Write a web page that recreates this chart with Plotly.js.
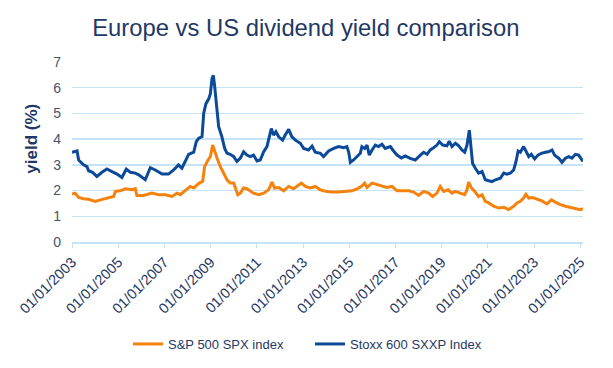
<!DOCTYPE html>
<html>
<head>
<meta charset="utf-8">
<script src="https://cdn.plot.ly/plotly-3.0.1.min.js"></script>
<style>html,body{margin:0;padding:0;background:#fff;}#chart{width:613px;height:368px;}</style>
</head>
<body>
<div id="chart"></div>
<script>
// Decimal years and yields in %
const spxYears = [2003.00,2003.14,2003.29,2003.50,2003.72,2004.01,2004.23,2004.44,2004.66,2004.80,2004.88,2005.09,2005.31,2005.60,2005.74,2005.81,2006.10,2006.46,2006.75,2007.04,2007.33,2007.55,2007.69,2007.90,2008.12,2008.27,2008.51,2008.66,2008.74,2008.89,2008.99,2009.09,2009.18,2009.28,2009.42,2009.56,2009.71,2009.85,2010.00,2010.10,2010.18,2010.29,2010.43,2010.57,2010.72,2010.86,2011.08,2011.30,2011.51,2011.66,2011.77,2011.95,2012.16,2012.38,2012.59,2012.74,2012.93,2013.10,2013.32,2013.53,2013.75,2013.97,2014.25,2014.54,2014.83,2015.12,2015.34,2015.52,2015.67,2015.77,2015.99,2016.20,2016.42,2016.63,2016.85,2017.07,2017.28,2017.57,2017.79,2018.00,2018.22,2018.44,2018.61,2018.80,2018.94,2019.09,2019.28,2019.45,2019.59,2019.81,2020.00,2020.10,2020.17,2020.29,2020.43,2020.60,2020.75,2020.89,2021.04,2021.25,2021.47,2021.70,2021.90,2022.12,2022.26,2022.41,2022.55,2022.65,2022.77,2022.94,2023.13,2023.34,2023.56,2023.75,2023.92,2024.14,2024.36,2024.57,2024.79,2025.00,2025.12];
const spxValues = [1.86,1.90,1.73,1.68,1.66,1.58,1.64,1.68,1.73,1.77,1.97,1.99,2.07,2.03,2.07,1.81,1.81,1.90,1.84,1.84,1.77,1.90,1.84,1.99,2.16,2.10,2.29,2.36,2.93,3.19,3.32,3.77,3.51,3.26,2.93,2.68,2.42,2.29,2.29,2.03,1.84,1.90,2.10,2.07,1.97,1.90,1.84,1.90,2.03,2.33,2.10,2.12,1.99,2.16,2.07,2.16,2.29,2.16,2.10,2.16,2.03,1.97,1.94,1.94,1.97,1.99,2.07,2.16,2.29,2.12,2.29,2.23,2.16,2.12,2.16,1.99,1.99,1.99,1.94,1.81,1.97,1.90,1.77,1.90,2.16,1.97,2.03,1.90,1.97,1.90,1.84,2.03,2.33,2.10,1.97,1.77,1.84,1.58,1.52,1.39,1.32,1.35,1.26,1.39,1.52,1.58,1.71,1.86,1.71,1.73,1.68,1.60,1.48,1.64,1.55,1.45,1.39,1.35,1.30,1.26,1.30];

const sxxpYears = [2003.00,2003.22,2003.29,2003.50,2003.65,2003.72,2003.89,2004.08,2004.30,2004.51,2004.73,2004.95,2005.16,2005.35,2005.53,2005.74,2005.89,2006.17,2006.39,2006.61,2006.90,2007.18,2007.40,2007.61,2007.76,2007.90,2008.05,2008.27,2008.38,2008.48,2008.63,2008.70,2008.80,2008.92,2008.99,2009.06,2009.12,2009.17,2009.23,2009.35,2009.49,2009.61,2009.71,2009.85,2010.00,2010.14,2010.29,2010.43,2010.57,2010.72,2010.86,2011.01,2011.15,2011.30,2011.44,2011.54,2011.63,2011.73,2011.83,2011.95,2012.12,2012.23,2012.38,2012.52,2012.67,2012.88,2013.03,2013.24,2013.39,2013.53,2013.75,2013.89,2014.04,2014.11,2014.33,2014.54,2014.76,2014.90,2014.98,2015.05,2015.19,2015.34,2015.48,2015.55,2015.67,2015.77,2015.87,2015.99,2016.13,2016.27,2016.42,2016.56,2016.78,2016.92,2017.07,2017.26,2017.43,2017.64,2017.86,2018.08,2018.22,2018.37,2018.51,2018.66,2018.80,2018.90,2019.05,2019.23,2019.33,2019.45,2019.60,2019.74,2019.88,2020.00,2020.10,2020.20,2020.27,2020.34,2020.46,2020.60,2020.75,2020.89,2021.04,2021.18,2021.33,2021.54,2021.69,2021.83,2021.97,2022.12,2022.22,2022.31,2022.41,2022.55,2022.65,2022.77,2022.88,2023.03,2023.17,2023.32,2023.49,2023.63,2023.78,2023.89,2024.07,2024.21,2024.36,2024.50,2024.64,2024.79,2024.93,2025.05,2025.12];
const sxxpValues = [3.49,3.54,3.19,3.00,2.93,2.77,2.71,2.55,2.71,2.84,2.74,2.64,2.51,2.84,2.71,2.68,2.61,2.42,2.89,2.80,2.64,2.64,2.80,3.00,2.87,3.13,3.41,3.49,3.90,4.03,4.10,5.00,5.38,5.57,5.77,6.35,6.48,6.09,5.57,4.48,4.09,3.64,3.45,3.41,3.32,3.13,3.26,3.51,3.38,3.32,3.38,3.15,3.19,3.51,3.71,4.16,4.41,4.16,4.29,4.09,3.96,4.16,4.38,4.09,3.96,3.84,3.64,3.58,3.73,3.49,3.45,3.32,3.49,3.54,3.64,3.71,3.67,3.71,3.49,3.10,3.19,3.32,3.45,3.71,3.64,3.77,3.38,3.58,3.77,3.71,3.80,3.64,3.71,3.54,3.38,3.27,3.35,3.25,3.19,3.38,3.49,3.41,3.58,3.67,3.77,3.90,3.77,3.74,3.92,3.71,3.84,3.74,3.58,3.49,3.77,4.35,3.77,3.06,2.87,2.68,2.74,2.42,2.38,2.35,2.42,2.48,2.68,2.64,2.68,2.80,3.13,3.54,3.49,3.71,3.54,3.32,3.41,3.23,3.38,3.45,3.49,3.51,3.58,3.38,3.26,3.10,3.26,3.32,3.26,3.41,3.38,3.19,3.13];

const seriesNames = ["S&P 500 SPX index", "Stoxx 600 SXXP Index"];
const chartTitle = "Europe vs US dividend yield comparison";
const yTitle = "yield (%)";

function decToDate(d) {
  const y = Math.floor(d);
  const s = Date.UTC(y, 0, 1), e = Date.UTC(y + 1, 0, 1);
  return new Date(s + (d - y) * (e - s)).toISOString().slice(0, 10);
}

const navy = "#1f3864";
const traces = [
  {x: spxYears.map(decToDate), y: spxValues, name: seriesNames[0], type: "scatter", mode: "lines",
   line: {color: "#f5820d", width: 3}},
  {x: sxxpYears.map(decToDate), y: sxxpValues, name: seriesNames[1], type: "scatter", mode: "lines",
   line: {color: "#0b4a98", width: 3}}
];

const layout = {
  width: 613, height: 368,
  margin: {l: 72, r: 30, t: 62, b: 126},
  paper_bgcolor: "#fff", plot_bgcolor: "#fff",
  font: {family: "Liberation Sans, Arial, sans-serif", color: navy},
  title: {text: chartTitle, x: 0.499, xanchor: "center", y: 1 - 28/368, yanchor: "middle",
          font: {size: 23.8, color: navy}},
  xaxis: {
    type: "date", range: [decToDate(2003.0), decToDate(2025.12)],
    tick0: "2003-01-01", dtick: "M24", tickformat: "%d/%m/%Y", tickangle: -45,
    showgrid: false, zeroline: false,
    showline: true, linecolor: "#c5e3f7", linewidth: 2,
    ticks: "outside", ticklen: 4, tickcolor: "#c5e3f7", tickwidth: 1,
    tickfont: {size: 14.5, color: navy}
  },
  yaxis: {
    range: [0, 7], dtick: 1, showgrid: true, gridcolor: "#c5e3f7", gridwidth: 1.5,
    zeroline: false, showline: false, ticks: "", ticklabelstandoff: 10,
    tickfont: {size: 14, color: "#44546a"}
  },
  showlegend: true,
  legend: {orientation: "h", xref: "container", yref: "container", x: 128/613, xanchor: "left",
           y: 1 - 344/368, yanchor: "middle", font: {size: 13, color: navy},
           entrywidth: 137, entrywidthmode: "pixels"},
  annotations: [{text: "<b>" + yTitle + "</b>", xref: "paper", yref: "paper",
                 x: (31.5 - 72) / 511, y: (242.3 - 139.5) / 180, textangle: -90, showarrow: false,
                 xanchor: "center", yanchor: "middle", font: {size: 17, color: navy}}]
};

Plotly.newPlot("chart", traces, layout, {displayModeBar: false, staticPlot: true});
</script>
</body>
</html>
